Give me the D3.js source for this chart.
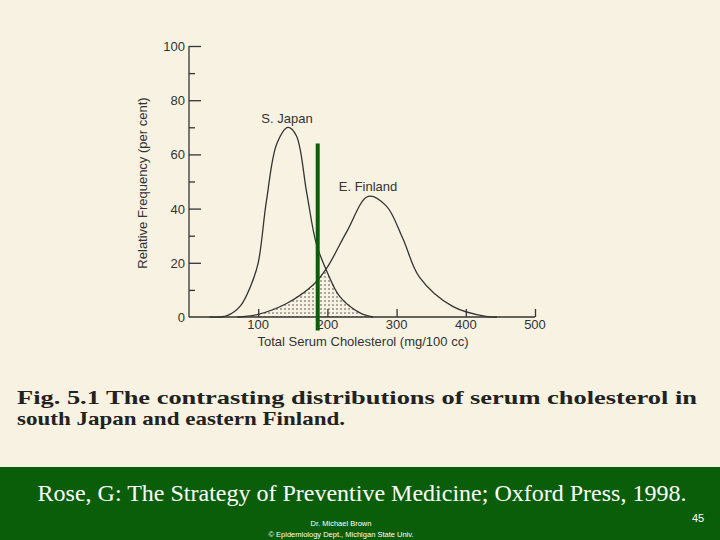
<!DOCTYPE html>
<html lang="en">
<head>
<meta charset="UTF-8">
<script src="https://cdn.jsdelivr.net/npm/d3@7"></script>
<style>body{margin:0}svg{display:block}</style>
</head>
<body>
<svg></svg>
<script>
  const width = 720, height = 540

  const japan = [[30,0],[55,0.5],[74,4],[90,12],[100,20],[112,43],[127,64],[143,70],[155,67],[170,46],[184,27],[199,17],[218,7.5],[247,1.5],[266,0]]
  const finland = [[70,0],[100,1],[141,5],[180,12],[199,18],[228,31.5],[259,44.5],[285,41],[309,29],[333,14.7],[381,3.9],[429,0.2],[445,0]]
  const xTicks = [100, 200, 300, 400, 500]
  const yTicks = [0, 20, 40, 60, 80, 100]
  const cutoff = 186

  const svg = d3.select('svg').attr('width', width).attr('height', height)

  svg.append('rect').attr('width', width).attr('height', 467).attr('fill', '#f7f2e1')
  svg.append('rect').attr('y', 467).attr('width', width).attr('height', 73).attr('fill', '#0a5e0a')

  const x = d3.scaleLinear().domain([0, 500]).range([189, 535])
  const y = d3.scaleLinear().domain([0, 100]).range([317, 46])

  const defs = svg.append('defs')
  const pat = defs.append('pattern').attr('id', 'dots').attr('width', 4).attr('height', 4)
      .attr('patternUnits', 'userSpaceOnUse')
  pat.append('circle').attr('cx', 1).attr('cy', 1).attr('r', 0.7).attr('fill', '#222')

  const curve = d3.curveCatmullRom
  const jf = d3.line().x(d => x(d[0])).y(d => y(d[1])).curve(curve)

  // overlap area: min of the two curves
  const overlap = d3.range(100, 261, 2).map(v => {
    const ip = arr => {
      for (let i = 1; i < arr.length; i++) if (arr[i][0] >= v) {
        const a = arr[i-1], b = arr[i]
        return a[1] + (b[1]-a[1]) * (v-a[0]) / (b[0]-a[0])
      }
      return 0
    }
    return [v, Math.min(ip(japan), ip(finland))]
  })
  svg.append('path')
      .attr('d', d3.area().x(d => x(d[0])).y0(y(0)).y1(d => y(d[1])).curve(curve)(overlap))
      .attr('fill', 'url(#dots)')

  svg.append('path').attr('d', jf(japan)).attr('fill', 'none').attr('stroke', '#333').attr('stroke-width', 1.3)
  svg.append('path').attr('d', jf(finland)).attr('fill', 'none').attr('stroke', '#333').attr('stroke-width', 1.3)

  // axes
  const axisColor = '#333'
  const xg = svg.append('g').attr('transform', `translate(0,${y(0)})`)
      .call(d3.axisTop(x).tickValues(xTicks).tickSize(8).tickFormat(''))
  xg.select('.domain').attr('d', `M${x(0)},0H${x(500)}`)
  xg.selectAll('line, path').attr('stroke', axisColor).attr('stroke-width', 1.3)
  svg.append('g').selectAll('text').data(xTicks).join('text')
      .attr('x', d => x(d)).attr('y', y(0) + 12).attr('text-anchor', 'middle')
      .attr('font-family', 'Liberation Sans, Arial').attr('font-size', 13).attr('fill', axisColor)
      .text(d => d)

  const yg = svg.append('g').attr('transform', `translate(${x(0)},0)`)
      .call(d3.axisRight(y).tickValues(d3.range(0, 101, 10)).tickSize(6).tickFormat(''))
  yg.selectAll('.tick line').attr('x2', d => d % 20 === 0 ? 12 : 6)
  yg.selectAll('.tick').filter(d => d === 0).select('line').remove()
  yg.select('.domain').attr('d', `M0,${y(0)}V${y(100)}`)
  yg.selectAll('line, path').attr('stroke', axisColor).attr('stroke-width', 1.3)
  svg.append('g').selectAll('text').data(yTicks).join('text')
      .attr('x', x(0) - 4).attr('y', d => y(d) + 5).attr('text-anchor', 'end')
      .attr('font-family', 'Liberation Sans, Arial').attr('font-size', 13).attr('fill', axisColor)
      .text(d => d)

  const lab = (t, px, py, rot) => svg.append('text').attr('transform', `translate(${px},${py}) rotate(${rot || 0})`)
      .attr('text-anchor', 'middle').attr('font-family', 'Liberation Sans, Arial')
      .attr('font-size', 13).attr('fill', axisColor).text(t)
  lab('S. Japan', 287, 123)
  lab('E. Finland', 368, 191)
  lab('Total Serum Cholesterol (mg/100 cc)', 363, 346)
  lab('Relative Frequency (per cent)', 147, 183, -90)

  // cutoff line
  svg.append('line').attr('x1', x(cutoff)).attr('x2', x(cutoff))
      .attr('y1', y(64)).attr('y2', y(-5))
      .attr('stroke', '#0a5e0a').attr('stroke-width', 4)

  // caption
  const cap = svg.append('text').attr('font-family', 'Liberation Serif, Times New Roman')
      .attr('font-weight', 'bold').attr('font-size', 19).attr('fill', '#222')
  cap.append('tspan').attr('x', 17).attr('y', 404).attr('textLength', 680).attr('lengthAdjust', 'spacingAndGlyphs')
      .text('Fig. 5.1  The contrasting distributions of serum cholesterol in')
  cap.append('tspan').attr('x', 17).attr('y', 425).attr('textLength', 328).attr('lengthAdjust', 'spacingAndGlyphs')
      .text('south Japan and eastern Finland.')

  // footer
  svg.append('text').attr('x', 362).attr('y', 501).attr('text-anchor', 'middle')
      .attr('font-family', 'Liberation Serif, Times New Roman').attr('font-size', 24).attr('fill', '#fff')
      .text('Rose, G: The Strategy of Preventive Medicine; Oxford Press, 1998.')
  svg.append('text').attr('x', 698).attr('y', 522).attr('text-anchor', 'middle')
      .attr('font-family', 'Liberation Sans, Arial').attr('font-size', 11).attr('fill', '#fff').text('45')
  svg.append('text').attr('x', 341).attr('y', 526).attr('text-anchor', 'middle')
      .attr('font-family', 'Liberation Sans, Arial').attr('font-size', 7.5).attr('fill', '#fff').text('Dr. Michael Brown')
  svg.append('text').attr('x', 341).attr('y', 537).attr('text-anchor', 'middle')
      .attr('font-family', 'Liberation Sans, Arial').attr('font-size', 7.5).attr('fill', '#fff').text('© Epidemiology Dept., Michigan State Univ.')
</script>
</body>
</html>
